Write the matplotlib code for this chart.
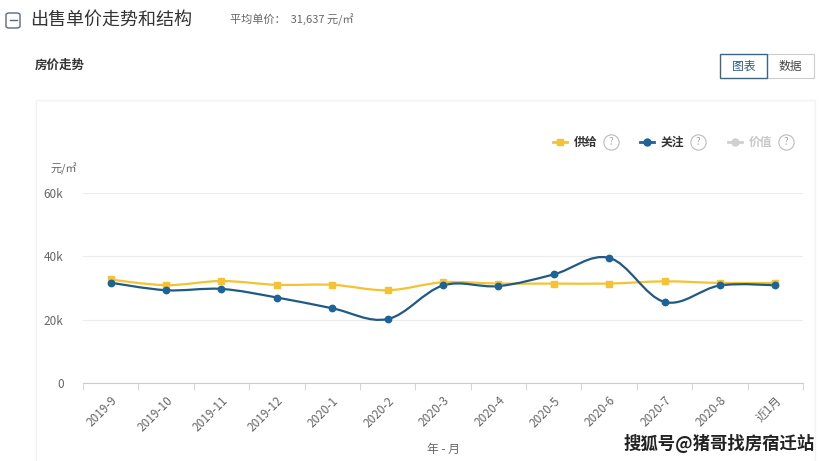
import matplotlib.pyplot as plt
import numpy as np
from matplotlib.path import Path
from matplotlib.patches import PathPatch, FancyBboxPatch, Rectangle

plt.rcParams['font.family'] = ['Noto Sans CJK SC', 'DejaVu Sans']

months = ['2019-9', '2019-10', '2019-11', '2019-12', '2020-1', '2020-2', '2020-3',
          '2020-4', '2020-5', '2020-6', '2020-7', '2020-8', '近1月']
supply = [32700, 30900, 32200, 31000, 31000, 29300, 31800, 31400, 31400, 31400, 32100, 31600, 31600]
attention = [31700, 29300, 29700, 27000, 23600, 20200, 30800, 30600, 34300, 39500, 25600, 30800, 30800]
yticks = [0, 20000, 40000, 60000]
ytick_labels = ['0', '20k', '40k', '60k']

YELLOW = '#f4c232'
BLUE = '#1b6399'
GRAY_TXT = '#666666'


def smooth_path(xs, ys, k=0.35):
    # bezier curve through the points, similar to echarts smooth lines
    verts = [(xs[0], ys[0])]
    codes = [Path.MOVETO]
    n = len(xs)
    for i in range(n - 1):
        p0 = (xs[max(i - 1, 0)], ys[max(i - 1, 0)])
        p1 = (xs[i], ys[i])
        p2 = (xs[i + 1], ys[i + 1])
        p3 = (xs[min(i + 2, n - 1)], ys[min(i + 2, n - 1)])
        c1 = (p1[0] + (p2[0] - p0[0]) * k / 2 * (1 if i > 0 else 0),
              p1[1] + (p2[1] - p0[1]) * k / 2 * (1 if i > 0 else 0))
        c2 = (p2[0] - (p3[0] - p1[0]) * k / 2 * (1 if i < n - 2 else 0),
              p2[1] - (p3[1] - p1[1]) * k / 2 * (1 if i < n - 2 else 0))
        verts += [c1, c2, p2]
        codes += [Path.CURVE4] * 3
    return Path(verts, codes)


fig = plt.figure(figsize=(8.21, 4.61), dpi=100)

# page decorations
fig.patches.append(FancyBboxPatch((6 / 821, 1 - 28 / 461), 14 / 821, 15 / 461,
                                  boxstyle='round,pad=0,rounding_size=0.004',
                                  transform=fig.transFigure, fill=False,
                                  edgecolor='#5a6a7a', linewidth=1))
fig.add_artist(plt.Line2D([9.5 / 821, 16.5 / 821], [1 - 20.5 / 461] * 2,
                          transform=fig.transFigure, color='#5a6a7a', lw=1))
fig.text(30 / 821, 1 - 20 / 461, '出售单价走势和结构', fontsize=13, color='#333333', va='center')
fig.text(230 / 821, 1 - 20 / 461, '平均单价：  31,637 元/㎡', fontsize=8, color=GRAY_TXT, va='center')
fig.text(35 / 821, 1 - 65 / 461, '房价走势', fontsize=9, color='#333333', weight='bold', va='center')

fig.patches.append(Rectangle((767 / 821, 1 - 78 / 461), 47 / 821, 24 / 461,
                             transform=fig.transFigure, fill=False, edgecolor='#cccccc', lw=0.8))
fig.patches.append(Rectangle((720 / 821, 1 - 78 / 461), 47 / 821, 24 / 461,
                             transform=fig.transFigure, fill=False, edgecolor='#3d6580', lw=1))
fig.text(743.5 / 821, 1 - 66 / 461, '图表', fontsize=8.5, color='#2d5f80', ha='center', va='center')
fig.text(790.5 / 821, 1 - 66 / 461, '数据', fontsize=8.5, color='#444444', ha='center', va='center')
fig.patches.append(Rectangle((36 / 821, -0.01), 779 / 821, 1 - 100 / 461 + 0.01,
                             transform=fig.transFigure, fill=False, edgecolor='#f2f2f2', lw=1))

# legend
leg = [(560, '供给', YELLOW, 's', '#333333'), (647, '关注', BLUE, 'o', '#333333'),
       (735, '价值', '#d0d0d0', 'o', '#c8c8c8')]
for x0, name, col, mk, tc in leg:
    fy = 1 - 142 / 461
    fig.add_artist(plt.Line2D([(x0 - 7) / 821, (x0 + 7) / 821], [fy, fy], transform=fig.transFigure,
                              color=col, lw=2, marker=None))
    fig.add_artist(plt.Line2D([x0 / 821], [fy], transform=fig.transFigure, color=col,
                              marker=mk, markersize=5, lw=0))
    fig.text((x0 + 14) / 821, fy, name, fontsize=8.5, color=tc, va='center', weight='bold')
    fig.add_artist(plt.Line2D([(x0 + 51) / 821], [fy], transform=fig.transFigure, marker='o',
                              markersize=11, markerfacecolor='none', markeredgecolor='#bbbbbb',
                              markeredgewidth=0.8, lw=0))
    fig.text((x0 + 51) / 821, fy, '?', fontsize=7, color='#aaaaaa', ha='center', va='center')

ax = fig.add_axes([83 / 821, (461 - 383) / 461, 720 / 821, 190 / 461])
x = np.arange(len(months))

for vals, col, mk, lc in [(supply, YELLOW, 's', YELLOW), (attention, BLUE, 'o', '#1f5a85')]:
    ax.add_patch(PathPatch(smooth_path(x, vals), facecolor='none', edgecolor=lc, lw=1.6, zorder=3))
    ax.plot(x, vals, lw=0, marker=mk, markersize=4.6, color=col, zorder=4)

ax.set_xlim(-0.5, len(months) - 0.5)
ax.set_ylim(0, 60000)
ax.set_yticks(yticks)
ax.set_yticklabels(ytick_labels)
ax.grid(axis='y', color='#ececec', lw=0.8)
ax.set_axisbelow(True)
for s in ['top', 'right', 'left']:
    ax.spines[s].set_visible(False)
ax.spines['bottom'].set_color('#cccccc')
ax.tick_params(axis='y', length=0, labelsize=8.5, labelcolor=GRAY_TXT, pad=14)
ax.set_xticks(x)
ax.set_xticklabels(months, rotation=45, ha='right', rotation_mode='anchor', fontsize=8.5, color=GRAY_TXT)
ax.set_xticks(np.arange(len(months) + 1) - 0.5, minor=True)
ax.tick_params(axis='x', which='major', length=0, pad=8)
ax.tick_params(axis='x', which='minor', length=5, color='#cccccc')

fig.text(50 / 821, 1 - 169 / 461, '元/㎡', fontsize=8, color=GRAY_TXT, va='center')
fig.text(443 / 821, 1 - 449 / 461, '年 - 月', fontsize=8.5, color=GRAY_TXT, ha='center', va='center')
fig.text(815 / 821, 1 - 443 / 461, '搜狐号@猪哥找房宿迁站', fontsize=12.5, color='#222222',
         ha='right', va='center', weight='bold')

fig.savefig('out.png', dpi=100)
